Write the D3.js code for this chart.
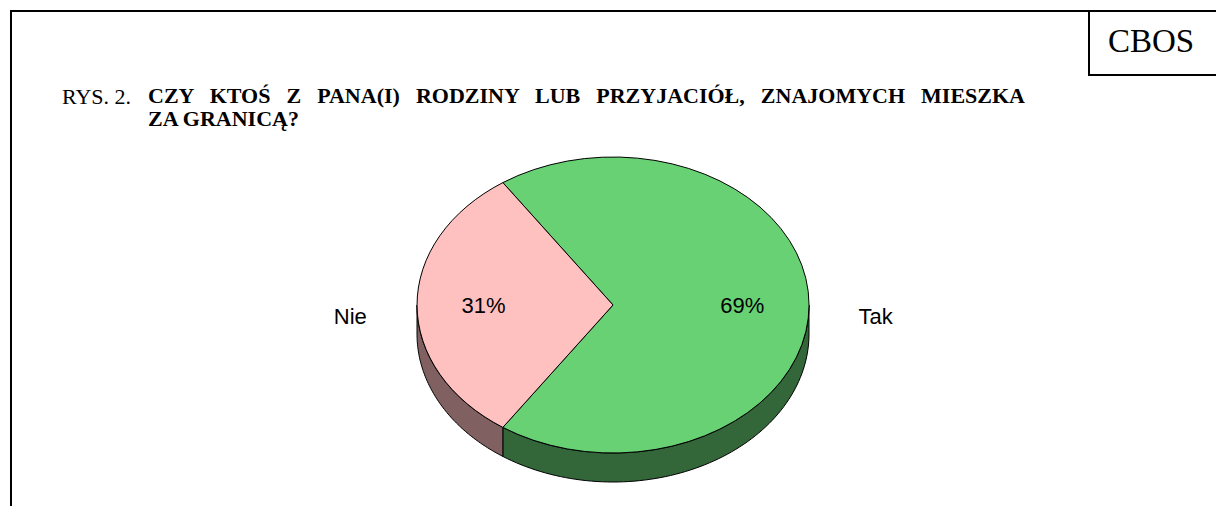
<!DOCTYPE html>
<html>
<head>
<meta charset="utf-8">
<script src="https://cdn.jsdelivr.net/npm/d3@7"></script>
<style>
  html, body { margin: 0; padding: 0; background: #fff; }
  svg { display: block; }
</style>
</head>
<body>
<svg id="chart" width="1216" height="506"></svg>
<script>
// ---- data ----
const categories = ["Tak", "Nie"];
const values = [69, 31];
const valueLabels = ["69%", "31%"];
const topColors = ["#68D174", "#FFC0C0"];
const sideColors = ["#33673A", "#806060"];
const figLabel = "RYS. 2.";
const titleLines = ["CZY KTOŚ Z PANA(I) RODZINY LUB PRZYJACIÓŁ, ZNAJOMYCH MIESZKA", "ZA GRANICĄ?"];
const brand = "CBOS";

const svg = d3.select("#chart");
const W = 1216, H = 506;
const serif = "'Liberation Serif','Times New Roman',serif";
const sans = "'Liberation Sans',Arial,sans-serif";

// frame
svg.append("path")
  .attr("d", `M11,${H} L11,11 L${W},11`)
  .attr("fill", "none").attr("stroke", "#000").attr("stroke-width", 2);
svg.append("path")
  .attr("d", `M1089,11 L1089,75 L${W},75`)
  .attr("fill", "none").attr("stroke", "#000").attr("stroke-width", 2);
svg.append("text").attr("x", 1151).attr("y", 52)
  .attr("text-anchor", "middle")
  .attr("font-family", serif)
  .attr("font-size", 33).text(brand);

// justify helper: spread word gaps so text ends at targetX
function justify(sel, x0, targetX) {
  const natural = sel.node().getComputedTextLength();
  const gaps = (sel.text().match(/ /g) || []).length;
  if (gaps > 0) sel.attr("word-spacing", Math.max(0, (targetX - x0 - natural) / gaps));
}

// title
svg.append("text").attr("x", 62).attr("y", 104)
  .attr("font-family", serif)
  .attr("font-size", 22).text(figLabel);
titleLines.forEach((t, i) => {
  const tt = svg.append("text").attr("x", 148).attr("y", 103 + i * 23)
    .attr("font-family", serif)
    .attr("font-weight", "bold")
    .attr("font-size", 22).text(t);
  if (i === 0) justify(tt, 148, 1025);
});

// pie
const cx = 613, cy = 305, rx = 196, ry = 148, depth = 29;
const share0 = values[0] / d3.sum(values);
const start = Math.PI / 2 - Math.PI * share0;
const pie = d3.pie().sort(null).startAngle(start).endAngle(start + 2 * Math.PI);
const arcs = pie(values);

const pt = (a, dy = 0) => [cx + rx * Math.sin(a), cy - ry * Math.cos(a) + dy];

// side walls (visible front half: angle in [PI/2, 3PI/2])
arcs.forEach((d, i) => {
  const a0 = d.startAngle, a1 = d.endAngle;
  [0, 2 * Math.PI, -2 * Math.PI].forEach(off => {
    const s = Math.max(a0 + off, Math.PI / 2), e = Math.min(a1 + off, 3 * Math.PI / 2);
    if (e > s) {
      const n = 80;
      const top = d3.range(n + 1).map(k => pt(s + (e - s) * k / n));
      const bot = d3.range(n + 1).map(k => pt(e - (e - s) * k / n, depth));
      svg.append("path")
        .attr("d", d3.line()(top.concat(bot)) + "Z")
        .attr("fill", sideColors[i]).attr("stroke", "#000").attr("stroke-width", 1)
        .attr("stroke-linejoin", "round");
    }
  });
});

// top faces
const arc = d3.arc().innerRadius(0).outerRadius(1);
svg.append("g").attr("transform", `translate(${cx},${cy}) scale(${rx},${ry})`)
  .selectAll("path").data(arcs).join("path")
  .attr("d", arc)
  .attr("fill", (d, i) => topColors[i])
  .attr("stroke", "#000").attr("stroke-width", 1)
  .attr("vector-effect", "non-scaling-stroke");

// labels
arcs.forEach((d, i) => {
  const mid = (d.startAngle + d.endAngle) / 2;
  const p = pt(mid);
  const vx = cx + (p[0] - cx) * 0.66, vy = cy + (p[1] - cy) * 0.66 + 8;
  const lx = cx + (p[0] - cx) * 1.34, ly = cy + (p[1] - cy) * 1.34 + 19;
  svg.append("text").attr("x", vx).attr("y", vy).attr("text-anchor", "middle")
    .attr("font-family", sans).attr("font-size", 22)
    .attr("fill", "#000").text(valueLabels[i]);
  svg.append("text").attr("x", lx).attr("y", ly).attr("text-anchor", "middle")
    .attr("font-family", sans).attr("font-size", 22)
    .attr("fill", "#000").text(categories[i]);
});
</script>
</body>
</html>
